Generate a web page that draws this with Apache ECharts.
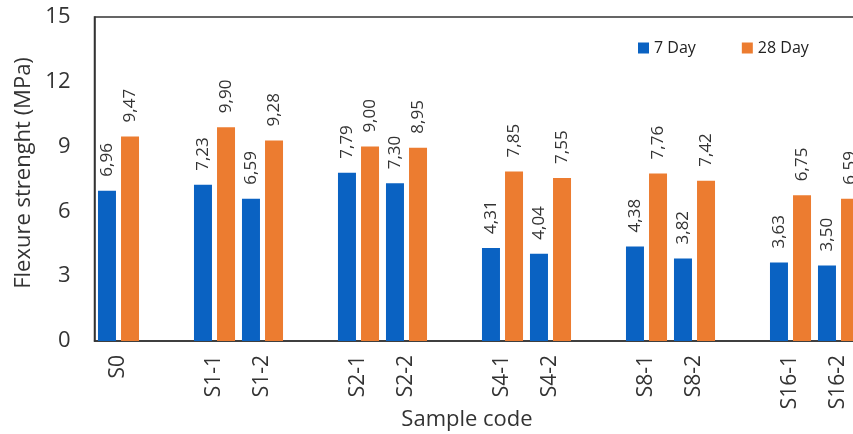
<!DOCTYPE html>
<html>
<head>
<meta charset="utf-8">
<script src="https://cdn.jsdelivr.net/npm/echarts@6/dist/echarts.min.js"></script>
<style>
html,body{margin:0;padding:0;background:#fff;}
#chart{width:853px;height:434px;}
</style>
</head>
<body>
<div id="chart"></div>
<script>
// Sample codes ('' entries are the blank gaps between groups)
var categories = ['S0','','S1-1','S1-2','','S2-1','S2-2','','S4-1','S4-2','','S8-1','S8-2','','S16-1','S16-2'];
var day7  = [6.96, null, 7.23, 6.59, null, 7.79, 7.30, null, 4.31, 4.04, null, 4.38, 3.82, null, 3.63, 3.50];
var day28 = [9.47, null, 9.90, 9.28, null, 9.00, 8.95, null, 7.85, 7.55, null, 7.76, 7.42, null, 6.75, 6.59];
var seriesNames = ['7 Day', '28 Day'];
var yTicks = {min: 0, max: 15, interval: 3};

var FONT = 'Open Sans';
var TXT = '#333333';
var chart = echarts.init(document.getElementById('chart'), null, {renderer: 'canvas'});

function lbl() {
  return {
    show: true,
    position: 'top',
    rotate: 90,
    align: 'left',
    verticalAlign: 'middle',
    distance: 14,
    fontFamily: FONT,
    fontSize: 17,
    color: TXT,
    formatter: function (p) { return p.value == null ? '' : p.value.toFixed(2).replace('.', ','); }
  };
}

chart.setOption({
  animation: false,
  backgroundColor: '#ffffff',
  textStyle: {fontFamily: FONT},
  grid: {
    left: 94.5, top: 17, right: -9.5, bottom: 93,
    outerBoundsMode: 'none',
    containLabel: false,
    show: true, borderColor: '#333333', borderWidth: 1.5, backgroundColor: 'transparent'
  },
  legend: {
    left: 633, top: 35,
    itemWidth: 11, itemHeight: 11, itemGap: 46,
    icon: 'rect',
    textStyle: {fontFamily: FONT, fontSize: 16, color: '#222222'},
    data: seriesNames
  },
  xAxis: {
    type: 'category',
    data: categories,
    axisLine: {show: true, lineStyle: {color: '#333333', width: 1.5}},
    axisTick: {show: false},
    axisLabel: {interval: 0, rotate: 90, margin: 14, fontFamily: FONT, fontSize: 21, color: TXT},
    name: 'Sample code',
    nameLocation: 'middle',
    nameGap: 68,
    nameMoveOverlap: false,
    nameTextStyle: {fontFamily: FONT, fontSize: 22, color: TXT, padding: [0, 23, 0, 0]}
  },
  yAxis: {
    type: 'value',
    min: yTicks.min, max: yTicks.max, interval: yTicks.interval,
    axisLine: {show: true, lineStyle: {color: '#333333', width: 1.5}},
    axisTick: {show: false},
    splitLine: {show: false},
    axisLabel: {margin: 24, fontFamily: FONT, fontSize: 22, color: TXT},
    name: 'Flexure strenght (MPa)',
    nameLocation: 'middle',
    nameGap: 60,
    nameMoveOverlap: false,
    nameTextStyle: {fontFamily: FONT, fontSize: 22, color: TXT, padding: [0, 0, 0, 12]}
  },
  series: [
    {
      name: seriesNames[0], type: 'bar', data: day7,
      barWidth: 18, barGap: '28%',
      itemStyle: {color: '#0a62c2'},
      label: lbl()
    },
    {
      name: seriesNames[1], type: 'bar', data: day28,
      barWidth: 18, barGap: '28%',
      itemStyle: {color: '#ec7c30'},
      label: lbl()
    }
  ]
});
</script>
</body>
</html>
